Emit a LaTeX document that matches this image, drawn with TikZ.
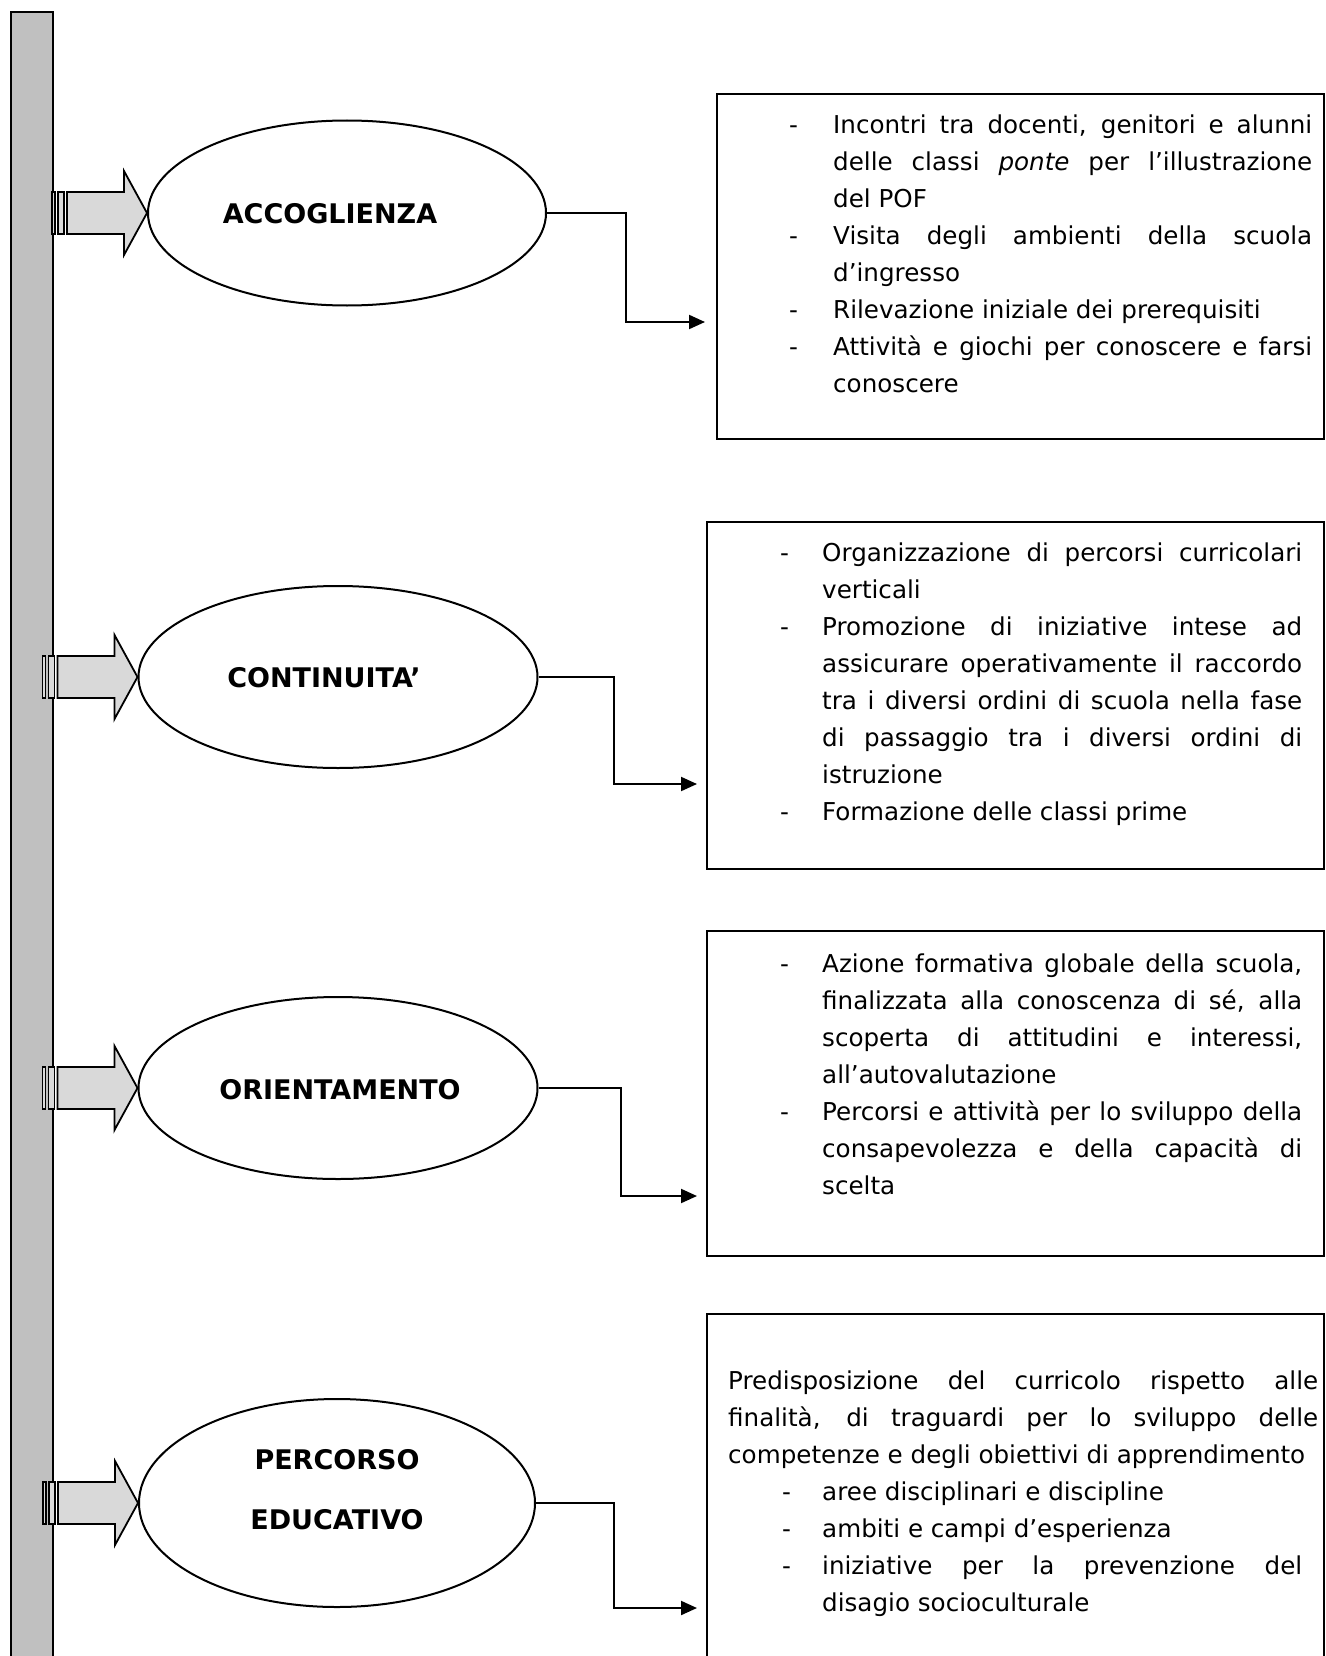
\documentclass[tikz,border=0pt]{standalone}
\usepackage{fontspec}
\setmainfont{DejaVu Sans}
\usetikzlibrary{shapes.geometric,arrows.meta}
\begin{document}
\begin{tikzpicture}[x=1pt,y=-1pt,
  bar/.style={fill={rgb,255:red,192;green,192;blue,192}, draw=black, line width=2pt},
  ell/.style={ellipse, draw, line width=2pt, inner sep=0pt},
  lab/.style={font=\fontsize{27}{32}\selectfont\bfseries, inner sep=0pt},
  box/.style={draw, line width=2pt, inner sep=0pt, anchor=north west},
  txt/.style={anchor=north west, inner sep=0pt, align=justify, font=\fontsize{24.6}{37}\selectfont},
  conn/.style={line width=2pt, -{Triangle[length=16pt,width=14pt]}},
  afill/.style={fill={rgb,255:red,217;green,217;blue,217}, draw=black, line width=1.8pt},
  pics/barrow/.style={code={
    \draw[afill] (-95,-21) rectangle (-92,21);
    \draw[afill] (-89,-21) rectangle (-83,21);
    \draw[afill] (-80,-21) -- (-23,-21) -- (-23,-42) -- (0,0) -- (-23,42) -- (-23,21) -- (-80,21) -- cycle;
  }}
]
\useasboundingbox (0,0) rectangle (1325,1656);

% vertical bar
\draw[bar] (11,12) rectangle (53,1690);

% ellipses
\node[ell, minimum width=398pt, minimum height=185pt] (e1) at (347,213) {};
\node[ell, minimum width=399pt, minimum height=182pt] (e2) at (338,677) {};
\node[ell, minimum width=399pt, minimum height=182pt] (e3) at (338,1088) {};
\node[ell, minimum width=396pt, minimum height=208pt] (e4) at (337,1503) {};

\node[lab] (l1) at (330,214) {ACCOGLIENZA};
\node[lab] (l2) at (324,678) {CONTINUITA’};
\node[lab] (l3) at (340,1090) {ORIENTAMENTO};
\node[lab] (l4a) at (337,1460) {PERCORSO};
\node[lab] (l4b) at (337,1520) {EDUCATIVO};

% block arrows from the bar
\pic at (e1.west) {barrow};
\pic at (e2.west) {barrow};
\pic at (e3.west) {barrow};
\pic at (e4.west) {barrow};

% boxes
\node[box, minimum width=607pt, minimum height=345pt] (b1) at (716,93) {};
\node[box, minimum width=617pt, minimum height=347pt] (b2) at (706,521) {};
\node[box, minimum width=617pt, minimum height=325pt] (b3) at (706,930) {};
\node[box, minimum width=617pt, minimum height=400pt] (b4) at (706,1313) {};

% connectors
\coordinate (k1) at (626,322); \coordinate (a1) at (705,322);
\coordinate (k2) at (614,784); \coordinate (a2) at (697,784);
\coordinate (k3) at (621,1196); \coordinate (a3) at (697,1196);
\coordinate (k4) at (614,1608); \coordinate (a4) at (697,1608);
\draw[conn] (e1.east) -| (k1) -- (a1);
\draw[conn] (e2.east) -| (k2) -- (a2);
\draw[conn] (e3.east) -| (k3) -- (a3);
\draw[conn] (e4.east) -| (k4) -- (a4);

% texts
\node[txt, text width=523pt] (t1) at (789,107) {%
\hangindent=44pt\hangafter=1\noindent\strut\makebox[44pt][l]{-}Incontri tra docenti, genitori e alunni\linebreak delle classi \emph{ponte} per l’illustrazione\linebreak del POF\par
\hangindent=44pt\hangafter=1\noindent\strut\makebox[44pt][l]{-}Visita degli ambienti della scuola\linebreak d’ingresso\par
\hangindent=44pt\hangafter=1\noindent\strut\makebox[44pt][l]{-}Rilevazione iniziale dei prerequisiti\par
\hangindent=44pt\hangafter=1\noindent\strut\makebox[44pt][l]{-}Attività e giochi per conoscere e farsi\linebreak conoscere\par};

\node[txt, text width=522pt] (t2) at (780,535) {%
\hangindent=42pt\hangafter=1\noindent\strut\makebox[42pt][l]{-}Organizzazione di percorsi curricolari\linebreak verticali\par
\hangindent=42pt\hangafter=1\noindent\strut\makebox[42pt][l]{-}Promozione di iniziative intese ad\linebreak assicurare operativamente il raccordo\linebreak tra i diversi ordini di scuola nella fase\linebreak di passaggio tra i diversi ordini di\linebreak istruzione\par
\hangindent=42pt\hangafter=1\noindent\strut\makebox[42pt][l]{-}Formazione delle classi prime\par};

\node[txt, text width=522pt] (t3) at (780,946) {%
\hangindent=42pt\hangafter=1\noindent\strut\makebox[42pt][l]{-}Azione formativa globale della scuola,\linebreak finalizzata alla conoscenza di sé, alla\linebreak scoperta di attitudini e interessi,\linebreak all’autovalutazione\par
\hangindent=42pt\hangafter=1\noindent\strut\makebox[42pt][l]{-}Percorsi e attività per lo sviluppo della\linebreak consapevolezza e della capacità di\linebreak scelta\par};

\node[txt, text width=590pt] (t4) at (728,1363) {%
\noindent\strut Predisposizione del curricolo rispetto alle\linebreak finalità, di traguardi per lo sviluppo delle\linebreak competenze e degli obiettivi di apprendimento\par
\leftskip=54pt\rightskip=16pt
\hangindent=40pt\hangafter=1\noindent\strut\makebox[40pt][l]{-}aree disciplinari e discipline\par
\hangindent=40pt\hangafter=1\noindent\strut\makebox[40pt][l]{-}ambiti e campi d’esperienza\par
\hangindent=40pt\hangafter=1\noindent\strut\makebox[40pt][l]{-}iniziative per la prevenzione del\linebreak disagio socioculturale\par};
\end{tikzpicture}
\end{document}
